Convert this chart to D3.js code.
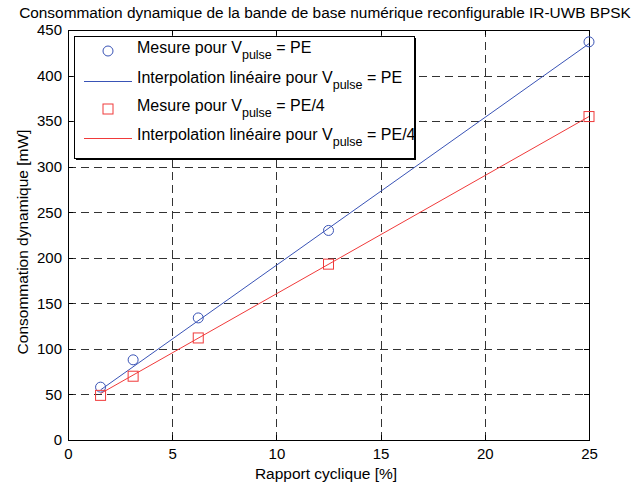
<!DOCTYPE html>
<html>
<head>
<meta charset="utf-8">
<script src="https://cdn.jsdelivr.net/npm/d3@7"></script>
<style>
	body { margin: 0; background: #fff; }
	text { font-family: "Liberation Sans", Arial, sans-serif; }
	.axis path, .axis line { stroke: #000; fill: none; shape-rendering: crispEdges; }
	.axis text { font-size: 15px; fill: #000; }
	.grid line { stroke: #333; stroke-dasharray: 8,5; shape-rendering: crispEdges; }
</style>
</head>
<body>
<script>
	var width = 635, height = 488;
	var margin = {left: 68, right: 46, top: 30, bottom: 48};

	// rapport cyclique en %
	var duty = [1.5625, 3.125, 6.25, 12.5, 25];
	var mesurePE = [58, 88, 134, 230, 437];
	var mesurePE4 = [49, 70, 112, 193, 355];
	// extremites des droites d'interpolation
	var fitX = [1.5625, 25];
	var fitPE = [55, 435];
	var fitPE4 = [51, 355];
	var xTicks = [0, 5, 10, 15, 20, 25];
	var yTicks = [0, 50, 100, 150, 200, 250, 300, 350, 400, 450];

	var blue = "#3953b6", red = "#f03a3a";

	var svg = d3.select("body").append("svg")
		.attr("width", width).attr("height", height);

	var x = d3.scaleLinear().domain([0, 25]).range([margin.left, width - margin.right]);
	var y = d3.scaleLinear().domain([0, 450]).range([height - margin.bottom, margin.top]);

	//grille
	svg.append("g").attr("class", "grid")
		.selectAll("line").data(xTicks.slice(1, -1)).enter().append("line")
		.attr("x1", function(d){ return Math.round(x(d)) + 0.5; })
		.attr("x2", function(d){ return Math.round(x(d)) + 0.5; })
		.attr("y1", y(0)).attr("y2", y(450));
	svg.append("g").attr("class", "grid")
		.selectAll("line").data(yTicks.slice(1, -1)).enter().append("line")
		.attr("y1", function(d){ return Math.round(y(d)) + 0.5; })
		.attr("y2", function(d){ return Math.round(y(d)) + 0.5; })
		.attr("x1", x(0)).attr("x2", x(25));

	//axes
	svg.append("g").attr("class", "axis")
		.attr("transform", "translate(0," + y(0) + ")")
		.call(d3.axisBottom(x).tickValues(xTicks).tickSizeInner(-5).tickSizeOuter(0).tickPadding(8));
	svg.append("g").attr("class", "axis")
		.attr("transform", "translate(" + x(0) + ",0)")
		.call(d3.axisLeft(y).tickValues(yTicks).tickSizeInner(-5).tickSizeOuter(0).tickPadding(6));
	svg.append("g").attr("class", "axis")
		.attr("transform", "translate(0," + y(450) + ")")
		.call(d3.axisTop(x).tickValues(xTicks).tickSizeInner(-5).tickSizeOuter(0).tickFormat(""));
	svg.append("g").attr("class", "axis")
		.attr("transform", "translate(" + x(25) + ",0)")
		.call(d3.axisRight(y).tickValues(yTicks).tickSizeInner(-5).tickSizeOuter(0).tickFormat(""));

	//droites
	var line = d3.line()
		.x(function(d){ return x(d[0]); })
		.y(function(d){ return y(d[1]); });
	svg.append("path").datum(d3.zip(fitX, fitPE))
		.attr("d", line).attr("fill", "none").attr("stroke", blue).attr("stroke-width", 1);
	svg.append("path").datum(d3.zip(fitX, fitPE4))
		.attr("d", line).attr("fill", "none").attr("stroke", red).attr("stroke-width", 1);

	//mesures
	svg.selectAll(".circ").data(d3.zip(duty, mesurePE)).enter().append("circle")
		.attr("class", "circ")
		.attr("cx", function(d){ return x(d[0]); })
		.attr("cy", function(d){ return y(d[1]); })
		.attr("r", 5).attr("fill", "none").attr("stroke", blue);
	svg.selectAll(".sq").data(d3.zip(duty, mesurePE4)).enter().append("rect")
		.attr("class", "sq")
		.attr("x", function(d){ return x(d[0]) - 5; })
		.attr("y", function(d){ return y(d[1]) - 5; })
		.attr("width", 10).attr("height", 10)
		.attr("fill", "none").attr("stroke", red);

	//titres
	svg.append("text").attr("x", 325).attr("y", 18)
		.attr("text-anchor", "middle").style("font-size", "15.4px")
		.text("Consommation dynamique de la bande de base numérique reconfigurable IR-UWB BPSK");
	svg.append("text").attr("x", 326).attr("y", 479)
		.attr("text-anchor", "middle").style("font-size", "15.5px")
		.text("Rapport cyclique [%]");
	svg.append("text").attr("transform", "translate(28,242) rotate(-90)")
		.attr("text-anchor", "middle").style("font-size", "15.5px")
		.text("Consommation dynamique [mW]");

	//legende
	var lg = svg.append("g");
	var lgW = 340, lgH = 122;
	lg.append("rect").attr("x", 76).attr("y", 38).attr("width", lgW).attr("height", lgH).attr("fill", "#000");
	lg.append("rect").attr("x", 74.5).attr("y", 36.5).attr("width", lgW).attr("height", lgH)
		.attr("fill", "#fff").attr("stroke", "#000");
	var entries = [
		{type: "circle", color: blue, label: "Mesure pour V", sub: "pulse", tail: " = PE"},
		{type: "line", color: blue, label: "Interpolation linéaire pour V", sub: "pulse", tail: " = PE"},
		{type: "square", color: red, label: "Mesure pour V", sub: "pulse", tail: " = PE/4"},
		{type: "line", color: red, label: "Interpolation linéaire pour V", sub: "pulse", tail: " = PE/4"}
	];
	var rowY = [51, 81, 109, 138];
	entries.forEach(function(e, i){
		var cy = rowY[i];
		if (e.type === "circle") {
			lg.append("circle").attr("cx", 108).attr("cy", cy).attr("r", 5)
				.attr("fill", "none").attr("stroke", e.color);
		} else if (e.type === "square") {
			lg.append("rect").attr("x", 103).attr("y", cy - 5).attr("width", 10).attr("height", 10)
				.attr("fill", "none").attr("stroke", e.color);
		} else {
			lg.append("line").attr("x1", 84).attr("x2", 132).attr("y1", cy + 0.5).attr("y2", cy + 0.5)
				.attr("stroke", e.color);
		}
		var t = lg.append("text").attr("x", 137).attr("y", cy + 2).style("font-size", "16px");
		t.append("tspan").text(e.label);
		t.append("tspan").attr("dy", 6).style("font-size", "12.5px").text(e.sub);
		t.append("tspan").attr("dy", -6).text(e.tail);
	});
</script>
</body>
</html>
